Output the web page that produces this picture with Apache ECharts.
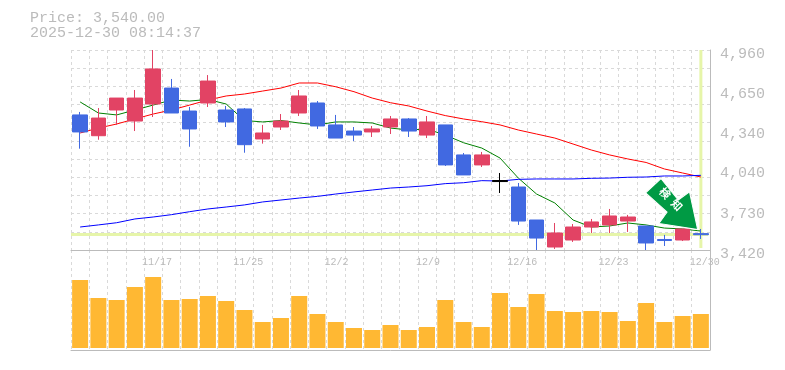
<!DOCTYPE html>
<html>
<head>
<meta charset="utf-8">
<style>
  html, body { margin: 0; padding: 0; background: #fff; }
  #chart { width: 785px; height: 370px; }
</style>
<script src="https://cdn.jsdelivr.net/npm/echarts@6/dist/echarts.min.js"></script>
</head>
<body>
<div id="chart"></div>
<script>
const dates = ['11/11','11/12','11/13','11/14','11/17','11/18','11/19','11/20','11/21','11/25','11/26','11/27','11/28','12/1','12/2','12/3','12/4','12/5','12/8','12/9','12/10','12/11','12/12','12/15','12/16','12/17','12/18','12/19','12/22','12/23','12/24','12/25','12/26','12/29','12/30'];
const tickDates = ['11/17','11/25','12/2','12/9','12/16','12/23','12/30'];
const priceLabels = [3420, 3730, 4040, 4340, 4650, 4960];
const priceGrid = [3420,3560,3700,3840,3980,4120,4260,4400,4540,4680,4820,4960];

const opens  = [4460,4300,4498,4413,4544,4667,4490,4552,4498,4506,4275,4367,4475,4552,4383,4336,4329,4367,4429,4305,4383,4152,4075,3955,3905,3651,3443,3497,3597,3613,3643,3605,3501,3497,3546];
const closes = [4329,4436,4590,4590,4814,4475,4352,4721,4406,4231,4321,4413,4606,4375,4282,4305,4352,4429,4336,4406,4075,3998,4152,3947,3643,3512,3551,3597,3636,3682,3674,3474,3493,3582,3538];
const lows   = [4200,4269,4383,4336,4444,4475,4215,4521,4367,4169,4239,4344,4452,4352,4282,4259,4290,4313,4290,4282,4067,3998,4059,3859,3613,3420,3428,3482,3551,3551,3559,3420,3451,3489,3505];
const highs  = [4483,4513,4590,4652,4960,4737,4521,4767,4529,4513,4383,4467,4652,4567,4460,4367,4375,4452,4436,4452,4383,4167,4175,4013,3936,3651,3628,3620,3659,3736,3690,3605,3536,3582,3582];

const maShort = [4560,4475,4460,4498,4536,4575,4567,4579,4544,4417,4406,4417,4398,4383,4406,4406,4398,4359,4344,4352,4305,4246,4205,4128,3974,3851,3782,3651,3597,3605,3628,3613,3589,3582,3566];
const maMid   = [4321,4359,4390,4429,4467,4498,4536,4575,4606,4621,4644,4667,4706,4706,4677,4639,4590,4554,4529,4490,4455,4429,4408,4383,4344,4313,4282,4236,4190,4152,4121,4094,4044,4013,3982];
const maLong  = [3597,3613,3630,3659,3674,3692,3715,3736,3751,3767,3790,3805,3820,3833,3851,3867,3882,3897,3905,3915,3931,3938,3954,3951,3964,3967,3967,3967,3972,3974,3980,3982,3990,3990,3995];

const volumes = [68,50,48,61,71,48,49,52,47,38,26,30,52,34,26,20,18,23,18,21,48,26,21,55,41,54,37,36,37,36,27,45,26,32,34];

const lastPrice = 3540;
const lastStamp = '2025-12-30 08:14:37';
const blackCandle = 23;

const RED = '#e24364', BLUE = '#4169e1', GREY = '#bbbbbb', GRID = '#d9d9d9', MARK = '#e6f5a9';
const MONO = '"Liberation Mono", monospace';
const arrowPath = 'path://M15 0L32 21L43 13L51 50L13 44L21 33L0 14Z';

const chart = echarts.init(document.getElementById('chart'), null, {renderer: 'canvas'});

const dashed = {show: true, interval: 0, lineStyle: {color: GRID, type: [3, 3], width: 1}};

const candleRows = dates.map((d, i) => {
  const value = [opens[i], closes[i], lows[i], highs[i]];
  if (i !== blackCandle) return value;
  return {value, itemStyle: {color: '#000', color0: '#000', borderColor: '#000', borderColor0: '#000'}};
});

const maLine = (data, color) => ({
  type: 'line', data, xAxisIndex: 0, yAxisIndex: 0, symbol: 'none', silent: true, z: 3,
  lineStyle: {color, width: 1}
});

chart.setOption({
  animation: false,
  title: {
    text: 'Price: ' + lastPrice.toLocaleString('en-US', {minimumFractionDigits: 2}) + '\n' + lastStamp,
    left: 30, top: 11, padding: 0,
    textStyle: {fontFamily: MONO, fontSize: 15, fontWeight: 'normal', color: GREY, lineHeight: 15}
  },
  grid: [
    {left: 71, top: 50, width: 639, height: 200},
    {left: 71, top: 250, width: 639, height: 100},
    {left: 69, top: 250, width: 639, height: 100}
  ],
  xAxis: [
    {type: 'category', gridIndex: 0, data: dates, boundaryGap: true,
      axisLine: {lineStyle: {color: GREY, width: 1}}, axisTick: {show: false}, axisLabel: {show: false}, splitLine: dashed},
    {type: 'category', gridIndex: 1, data: dates, boundaryGap: true,
      axisLine: {onZero: false, lineStyle: {color: GREY, width: 1}}, axisTick: {show: false}, axisLabel: {show: false}, splitLine: dashed},
    // date labels start at the left edge of their candle slot
    {type: 'category', gridIndex: 2, data: dates.concat(['']), boundaryGap: false, position: 'top',
      axisLine: {show: false}, axisTick: {show: false}, splitLine: {show: false},
      axisLabel: {
        inside: true, margin: 7, align: 'left', fontFamily: MONO, fontSize: 10, color: GREY,
        hideOverlap: false,
        interval: (i, v) => tickDates.includes(v)
      }},
    // helper scale in candle slots, for the marker lines and the arrow
    {type: 'value', gridIndex: 0, min: 0, max: 35, show: false}
  ],
  yAxis: [
    {type: 'value', gridIndex: 0, position: 'right', min: 3420, max: 4960, scale: true,
      axisLine: {show: true, onZero: false, lineStyle: {color: GREY, width: 1}},
      axisTick: {show: false, customValues: priceGrid},
      axisLabel: {
        customValues: priceLabels, margin: 10, fontFamily: MONO, fontSize: 15, color: GREY,
        verticalAlign: 'top', lineHeight: 8, showMinLabel: true, showMaxLabel: true,
        formatter: v => v.toLocaleString('en-US')
      },
      splitLine: {show: true, lineStyle: {color: GRID, type: [3, 3], width: 1}}},
    {type: 'value', gridIndex: 1, position: 'right', min: -2, max: 98,
      axisLine: {show: true, onZero: false, lineStyle: {color: GREY, width: 1}},
      axisTick: {show: false}, axisLabel: {show: false}, splitLine: {show: false}},
    {type: 'value', gridIndex: 2, show: false, min: 0, max: 1}
  ],
  series: [
    {type: 'line', xAxisIndex: 3, yAxisIndex: 0, data: [[0, lastPrice], [34.9, lastPrice]], symbol: 'none', silent: true, z: 1,
      lineStyle: {color: MARK, width: 3}},
    {type: 'line', xAxisIndex: 3, yAxisIndex: 0, data: [[34.5, 4960], [34.5, 3435]], symbol: 'none', silent: true, z: 1,
      lineStyle: {color: MARK, width: 3}},
    maLine(maMid, '#ff0000'),
    maLine(maShort, '#008000'),
    maLine(maLong, '#0000ff'),
    {type: 'candlestick', xAxisIndex: 0, yAxisIndex: 0, data: candleRows, barWidth: 15, z: 4,
      itemStyle: {color: RED, color0: BLUE, borderColor: RED, borderColor0: BLUE, borderWidth: 1}},
    {type: 'bar', xAxisIndex: 1, yAxisIndex: 1, data: volumes, barWidth: 16, itemStyle: {color: '#ffb833'}},
    {type: 'line', xAxisIndex: 2, yAxisIndex: 2, data: [], symbol: 'none'},
    {type: 'scatter', xAxisIndex: 3, yAxisIndex: 0, data: [[32.9, 3774]], symbol: arrowPath, symbolSize: [52, 51], silent: true, z: 10,
      itemStyle: {color: '#009a44', borderColor: '#fff', borderWidth: 1, opacity: 1},
      label: {show: true, position: 'inside', offset: [-4, -3], formatter: '検\u2002知', rotate: -45,
        fontFamily: '"Noto Sans CJK JP"', fontSize: 11, fontWeight: 'bold', color: '#fff'}}
  ]
});
</script>
</body>
</html>
